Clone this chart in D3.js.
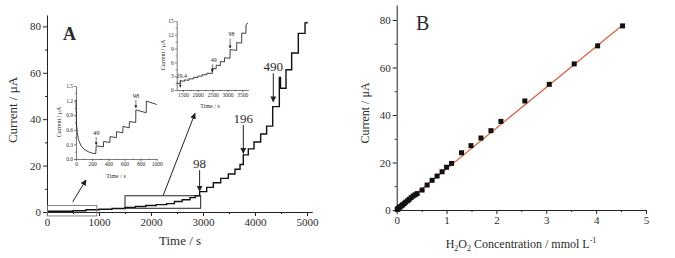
<!doctype html>
<html>
<head>
<meta charset="utf-8">
<script src="https://d3js.org/d3.v7.min.js"></script>
<style>
  body {margin:0; background:#fff;}
  svg {font-family: "Liberation Serif", "Times New Roman", serif;}
  text {fill:#2b2b2b;}
</style>
</head>
<body>
<svg width="675" height="258"></svg>
<script>
// ---- panel A, main trace (time / s, current / uA), step levels
const mainT = [0, 250, 500, 750, 1000, 1250, 1500, 1700, 1900, 2100, 2300, 2450, 2600, 2750, 2850,
  2935, 3071, 3199, 3340, 3487, 3615, 3712, 3775, 3871, 3981, 4109, 4224, 4340, 4468, 4490,
  4596, 4705, 4833, 4962, 5000];
const mainI = [0.3, 0.3, 0.55, 1.0, 1.2, 1.5, 2.0, 2.4, 2.8, 3.2, 3.6, 4.5, 5.3, 6.2, 7.0,
  8.8, 10.6, 12.6, 14.5, 16.4, 18.4, 20.5, 24.6, 27.2, 30.2, 33.6, 37.0, 45.4, 58.0, 53.3,
  61.3, 68.5, 77.0, 81.5, 82.0];
const mainMarks = ["98", "196", "490"];
const mainMarkT = [2935, 3775, 4352];
const mainMarkFrom = [18, 37.5, 59.8];
const mainMarkTo = [9, 25.3, 47.5];

// ---- inset 1 (0-1000 s)
const in1T = [0, 5, 15, 30, 60, 100, 150, 200, 245, 250, 340, 342, 420, 422, 500, 502, 580, 582,
  660, 662, 740, 742, 870, 872, 1000];
const in1I = [1.22, 0.75, 0.55, 0.4, 0.28, 0.2, 0.15, 0.12, 0.11, 0.27, 0.25, 0.36, 0.34, 0.46,
  0.44, 0.56, 0.54, 0.67, 0.64, 0.77, 0.75, 1.01, 0.95, 1.19, 1.12];
const in1Marks = ["49", "98"];
const in1MarkT = [250, 742];
const in1MarkFrom = [0.45, 1.21];
const in1MarkTo = [0.29, 1.05];

// ---- inset 2 (1300-3700 s)
const in2T = [1290, 1410, 1412, 1550, 1552, 1700, 1702, 1850, 1852, 2000, 2002, 2150, 2152, 2300,
  2302, 2488, 2490, 2618, 2620, 2758, 2760, 2898, 2900, 3085, 3087, 3309, 3311, 3477, 3479, 3621,
  3623, 3690];
const in2I = [1.5, 1.35, 2.0, 1.9, 2.2, 2.1, 2.45, 2.4, 2.75, 2.7, 3.05, 3.0, 3.35, 3.3,
  3.65, 3.6, 4.7, 4.6, 5.4, 5.3, 6.2, 6.1, 7.0, 6.9, 8.8, 8.6, 10.3, 10.2, 12.4, 12.3,
  14.2, 14.6];
const in2Marks = ["29.4", "49", "98"];
const in2MarkT = [1412, 2490, 3087];
const in2MarkFrom = [2.2, 5.6, 11.2];
const in2MarkTo = [0.6, 3.9, 9.1];

// ---- panel B, calibration (mmol/L, uA)
const concX = [0.01, 0.02, 0.03, 0.05, 0.07, 0.10, 0.12, 0.15, 0.18, 0.22, 0.25, 0.29, 0.33, 0.37,
  0.41, 0.51, 0.61, 0.71, 0.81, 0.91, 1.00, 1.10, 1.30, 1.49, 1.69, 1.89, 2.09, 2.57, 3.06, 3.56,
  4.03, 4.53];
const concI = [0.2, 0.4, 0.6, 1.0, 1.4, 1.8, 2.2, 2.7, 3.3, 3.9, 4.5, 5.2, 5.9, 6.4,
  6.9, 8.4, 10.5, 12.5, 14.3, 16.1, 18.0, 19.6, 24.1, 27.1, 30.3, 33.4, 37.3, 45.9, 52.9, 61.5,
  69.1, 77.5];
const fitX = [0, 4.55];
const fitI = [0.2, 78.2];

const svg = d3.select("svg");
const ink = "#222";

svg.append("defs").append("marker")
  .attr("id", "ah").attr("viewBox", "0 0 10 10").attr("refX", 9).attr("refY", 5)
  .attr("markerWidth", 6).attr("markerHeight", 6).attr("markerUnits", "userSpaceOnUse")
  .attr("orient", "auto")
  .append("path").attr("d", "M0,0L10,5L0,10z").attr("fill", ink);
svg.select("defs").append("marker")
  .attr("id", "ahs").attr("viewBox", "0 0 10 10").attr("refX", 9).attr("refY", 5)
  .attr("markerWidth", 3).attr("markerHeight", 3).attr("markerUnits", "userSpaceOnUse")
  .attr("orient", "auto")
  .append("path").attr("d", "M0,0L10,5L0,10z").attr("fill", ink);

function drawAxis(g, scale, orient, major, minor, size, fmt, fs, sw) {
  const mk = orient === "bottom" ? d3.axisBottom : d3.axisLeft;
  g.call(mk(scale).tickValues(major).tickSizeInner(size).tickSizeOuter(0)
    .tickPadding(size > 3 ? 2 : 1).tickFormat(fmt));
  g.append("g").call(mk(scale).tickValues(minor).tickSizeInner(size / 2).tickSizeOuter(0).tickFormat(""))
    .select(".domain").remove();
  g.attr("font-family", null).attr("font-size", fs);
  g.selectAll("path, line").attr("stroke", ink).attr("stroke-width", sw);
  g.selectAll("text").attr("fill", "#2b2b2b");
}

function markArrows(g, x, y, names, ts, from, to, fs, mid, dx) {
  names.forEach((n, i) => {
    g.append("line").attr("x1", x(ts[i])).attr("x2", x(ts[i]))
      .attr("y1", y(from[i])).attr("y2", y(to[i]))
      .attr("stroke", ink).attr("stroke-width", mid === "ah" ? 1 : 0.6)
      .attr("marker-end", `url(#${mid})`);
    g.append("text").attr("x", x(ts[i]) + dx).attr("y", y(from[i]) - 2)
      .attr("text-anchor", "middle").attr("font-size", fs).text(n);
  });
}

// ================= panel A =================
const xA = d3.scaleLinear().domain([0, 5100]).range([47, 312.2]);
const yA = d3.scaleLinear().domain([0, 84.9]).range([212, 15]);
const gA = svg.append("g");

drawAxis(gA.append("g").attr("transform", `translate(0,${yA(0)})`), xA, "bottom",
  [0, 1000, 2000, 3000, 4000, 5000], [500, 1500, 2500, 3500, 4500], 4, d3.format("d"), 11, 1);
drawAxis(gA.append("g").attr("transform", `translate(${xA(0)},0)`), yA, "left",
  [0, 20, 40, 60, 80], [10, 30, 50, 70], 4, d3.format("d"), 11, 1);

gA.append("text").attr("x", 180).attr("y", 245).attr("text-anchor", "middle")
  .attr("font-size", 13).text("Time / s");
gA.append("text").attr("transform", "translate(17,110) rotate(-90)").attr("text-anchor", "middle")
  .attr("font-size", 13).text("Current / μA");
gA.append("text").attr("x", 63).attr("y", 40).attr("font-size", 18).attr("font-weight", "bold")
  .text("A");

const mainData = mainT.map((t, i) => [t, mainI[i]]);
gA.append("path").datum(mainData)
  .attr("d", d3.line().x(d => xA(d[0])).y(d => yA(d[1])).curve(d3.curveStepAfter))
  .attr("fill", "none").attr("stroke", "#111").attr("stroke-width", 1.4);

// zoom boxes and arrows to insets
gA.append("rect").attr("x", xA(10)).attr("y", yA(2.8)).attr("width", xA(957) - xA(10))
  .attr("height", yA(-1.7) - yA(2.8)).attr("fill", "none").attr("stroke", "#777").attr("stroke-width", 0.9);
gA.append("rect").attr("x", xA(1500)).attr("y", yA(7.0)).attr("width", xA(2955) - xA(1500))
  .attr("height", yA(1.6) - yA(7.0)).attr("fill", "none").attr("stroke", ink).attr("stroke-width", 1);
gA.append("line").attr("x1", xA(494)).attr("y1", yA(4.4)).attr("x2", xA(750)).attr("y2", yA(13.8))
  .attr("stroke", ink).attr("stroke-width", 1).attr("marker-end", "url(#ah)");
gA.append("line").attr("x1", xA(2237)).attr("y1", yA(7.3)).attr("x2", xA(2846)).attr("y2", yA(42.5))
  .attr("stroke", ink).attr("stroke-width", 1).attr("marker-end", "url(#ah)");

markArrows(gA, xA, yA, mainMarks, mainMarkT, mainMarkFrom, mainMarkTo, 13, "ah", 0);

// ---- inset 1
const x1 = d3.scaleLinear().domain([0, 1000]).range([76, 156.7]);
const y1 = d3.scaleLinear().domain([0, 1.5]).range([159, 86]);
const g1 = svg.append("g");
drawAxis(g1.append("g").attr("transform", `translate(0,${y1(0)})`), x1, "bottom",
  [0, 200, 400, 600, 800, 1000], [100, 300, 500, 700, 900], 2, d3.format("d"), 5.5, 0.6);
drawAxis(g1.append("g").attr("transform", `translate(${x1(0)},0)`), y1, "left",
  [0, 0.3, 0.6, 0.9, 1.2, 1.5], [0.15, 0.45, 0.75, 1.05, 1.35], 2, d3.format(".1f"), 5.5, 0.6);
g1.append("text").attr("x", 116).attr("y", 178).attr("text-anchor", "middle")
  .attr("font-size", 6).text("Time / s");
g1.append("text").attr("transform", "translate(61,122) rotate(-90)").attr("text-anchor", "middle")
  .attr("font-size", 6).text("Current / μA");
g1.append("path").datum(in1T.map((t, i) => [t, in1I[i]]))
  .attr("d", d3.line().x(d => x1(d[0])).y(d => y1(d[1])))
  .attr("fill", "none").attr("stroke", "#111").attr("stroke-width", 0.8);
markArrows(g1, x1, y1, in1Marks, in1MarkT, in1MarkFrom, in1MarkTo, 6.5, "ahs", 0);

// ---- inset 2
const x2 = d3.scaleLinear().domain([1290, 3700]).range([176.7, 248.3]);
const y2 = d3.scaleLinear().domain([0, 15]).range([90, 21]);
const g2 = svg.append("g");
drawAxis(g2.append("g").attr("transform", `translate(0,${y2(0)})`), x2, "bottom",
  [1500, 2000, 2500, 3000, 3500], [1750, 2250, 2750, 3250], 2, d3.format("d"), 5.5, 0.6);
drawAxis(g2.append("g").attr("transform", `translate(${x2(1290)},0)`), y2, "left",
  [0, 3, 6, 9, 12, 15], [1.5, 4.5, 7.5, 10.5, 13.5], 2, d3.format("d"), 5.5, 0.6);
g2.append("text").attr("x", 210).attr("y", 108).attr("text-anchor", "middle")
  .attr("font-size", 6).text("Time / s");
g2.append("text").attr("transform", "translate(165,55) rotate(-90)").attr("text-anchor", "middle")
  .attr("font-size", 6).text("Current / μA");
g2.append("path").datum(in2T.map((t, i) => [t, in2I[i]]))
  .attr("d", d3.line().x(d => x2(d[0])).y(d => y2(d[1])))
  .attr("fill", "none").attr("stroke", "#111").attr("stroke-width", 0.8);
markArrows(g2, x2, y2, in2Marks, in2MarkT, in2MarkFrom, in2MarkTo, 6, "ahs", 1.5);

// ================= panel B =================
const xB = d3.scaleLinear().domain([0, 5]).range([396.7, 646]);
const yB = d3.scaleLinear().domain([0, 86.3]).range([210, 5]);
const gB = svg.append("g");
drawAxis(gB.append("g").attr("transform", `translate(0,${yB(0)})`), xB, "bottom",
  [0, 1, 2, 3, 4, 5], [0.5, 1.5, 2.5, 3.5, 4.5], 4, d3.format("d"), 11, 1);
drawAxis(gB.append("g").attr("transform", `translate(${xB(0)},0)`), yB, "left",
  [0, 20, 40, 60, 80], [10, 30, 50, 70], 4, d3.format("d"), 11, 1);

gB.append("text").attr("transform", "translate(369,113) rotate(-90)").attr("text-anchor", "middle")
  .attr("font-size", 12).text("Current / μA");
const xt = gB.append("text").attr("x", 521).attr("y", 248).attr("text-anchor", "middle").attr("font-size", 12);
xt.append("tspan").text("H");
xt.append("tspan").attr("dy", 3).attr("font-size", 8).text("2");
xt.append("tspan").attr("dy", -3).text("O");
xt.append("tspan").attr("dy", 3).attr("font-size", 8).text("2");
xt.append("tspan").attr("dy", -3).text(" Concentration / mmol L");
xt.append("tspan").attr("dy", -5).attr("font-size", 8).text("-1");
gB.append("text").attr("x", 416).attr("y", 30).attr("font-size", 20).text("B");

gB.append("line").attr("x1", xB(fitX[0])).attr("y1", yB(fitI[0]))
  .attr("x2", xB(fitX[1])).attr("y2", yB(fitI[1]))
  .attr("stroke", "#e0603a").attr("stroke-width", 1.2);
gB.selectAll("rect.pt").data(concX.map((c, i) => [c, concI[i]])).join("rect")
  .attr("class", "pt")
  .attr("x", d => xB(d[0]) - 2.5).attr("y", d => yB(d[1]) - 2.5)
  .attr("width", 5).attr("height", 5).attr("fill", "#111");
</script>
</body>
</html>
